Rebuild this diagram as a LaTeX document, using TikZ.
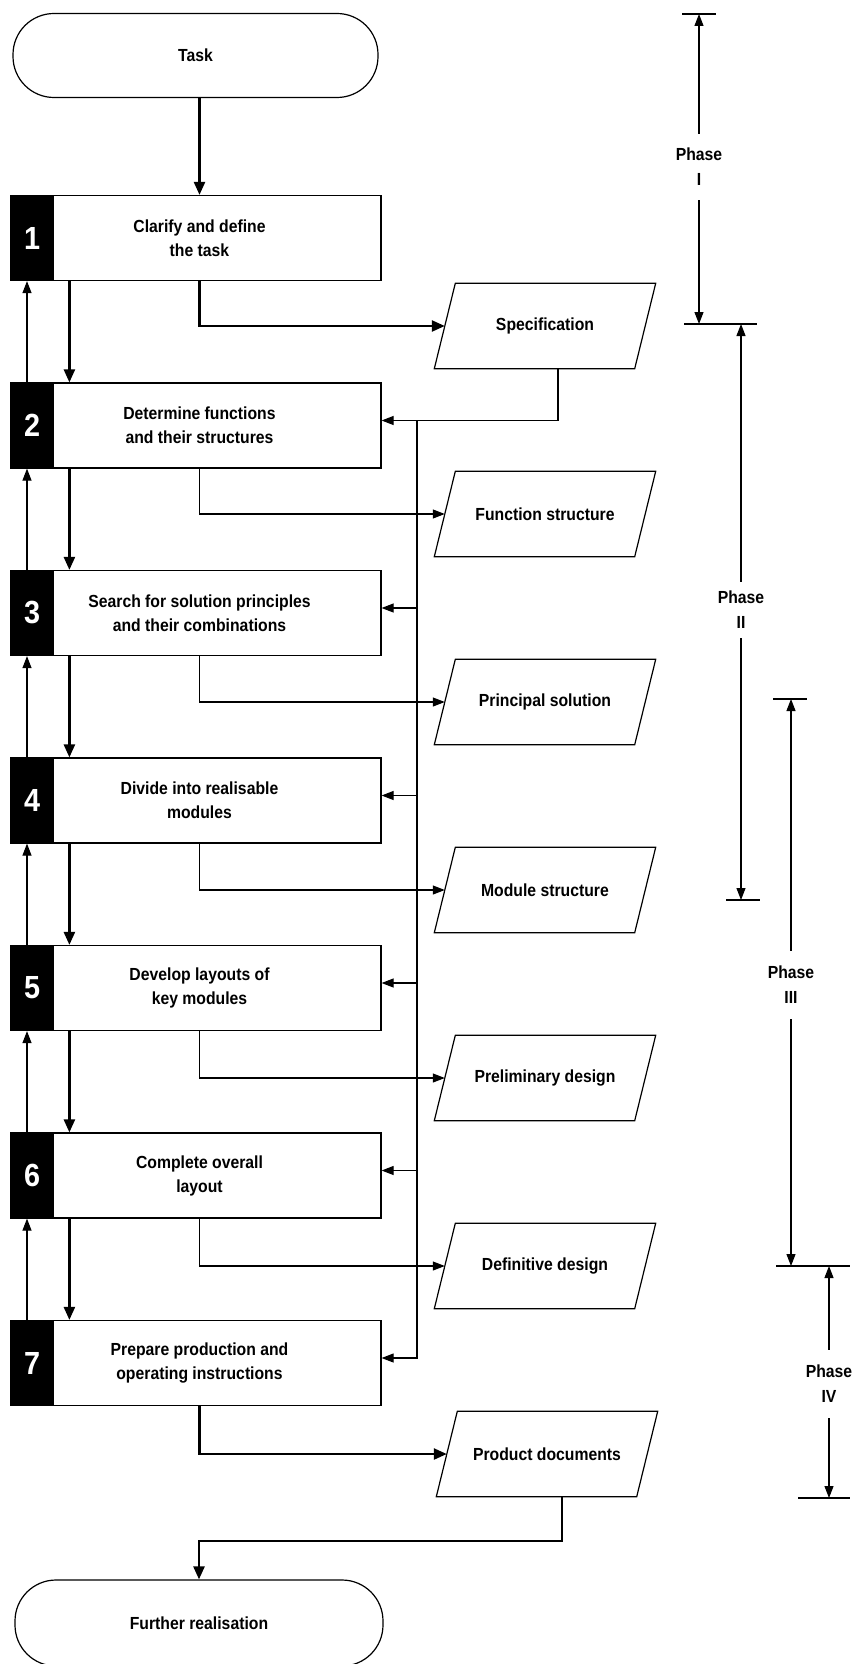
\documentclass[tikz,border=0pt]{standalone}
\usepackage{fontspec}
\setmainfont{Liberation Sans}[FakeStretch=0.9]
\usetikzlibrary{arrows.meta,calc}
\begin{document}
\begin{tikzpicture}[x=1pt,y=-1pt,
  every node/.style={font=\fontsize{17.5}{24}\selectfont\bfseries, align=center},
  line/.style={line width=1.2pt},
  thinarr/.style={line width=1.1pt,-{Triangle[length=12pt,width=9pt]}},
  flow/.style={line width=2.4pt,-{Triangle[length=13pt,width=11pt]}},
  stadium/.style={draw, line width=1.2pt, rounded corners=41pt, minimum width=365pt, minimum height=84pt, inner sep=0pt},
  stepbox/.style={draw, line width=1.2pt, minimum width=363pt, minimum height=85pt, inner sep=0pt},
  numbox/.style={fill=black, draw=black, line width=1.2pt, minimum width=43pt, minimum height=85pt, inner sep=0pt, text=white, font=\fontsize{32}{32}\selectfont\bfseries, anchor=west},
  para/.style={minimum width=200pt, minimum height=85pt, inner sep=0pt},
  phase/.style={inner sep=0pt, font=\fontsize{17.5}{25}\selectfont\bfseries},
]
\useasboundingbox (0,0) rectangle (854,1664);

% terminals
\node[stadium] (task) at (195.5,55.5) {Task};
\node[stadium, minimum width=368pt, minimum height=86pt] (fr) at (199,1623) {Further realisation};

% steps
\node[stepbox] (b1) at (199.5,238) {Clarify and define\\the task};
\node[stepbox] (b2) at (199.5,425.5) {Determine functions\\and their structures};
\node[stepbox] (b3) at (199.5,613) {Search for solution principles\\and their combinations};
\node[stepbox] (b4) at (199.5,800.5) {Divide into realisable\\modules};
\node[stepbox] (b5) at (199.5,988) {Develop layouts of\\key modules};
\node[stepbox] (b6) at (199.5,1175.5) {Complete overall\\layout};
\node[stepbox] (b7) at (199.5,1363) {Prepare production and\\operating instructions};
\foreach \i/\y in {1/238,2/425.5,3/613,4/800.5,5/988,6/1175.5,7/1363}
  \node[numbox] (n\i) at (10,\y) {\i};

% results
\node[para] (p1) at (545,326) {Specification};
\node[para] (p2) at (545,514) {Function structure};
\node[para] (p3) at (545,702) {Principal solution};
\node[para] (p4) at (545,890) {Module structure};
\node[para] (p5) at (545,1078) {Preliminary design};
\node[para] (p6) at (545,1266) {Definitive design};
\node[para] (p7) at (547,1454) {Product documents};
\foreach \i in {1,...,7}
  \draw[line] ([xshift=-10.5pt]p\i.south west) -- ([xshift=10.5pt]p\i.north west)
    -- ([xshift=10.5pt]p\i.north east) -- ([xshift=-10.5pt]p\i.south east) -- cycle;

% main flow
\draw[flow] (b1.north |- task.south) -- (b1.north);
\foreach \i in {1,...,6}{
  \pgfmathtruncatemacro{\j}{\i+1}
  \draw[flow] ([xshift=52pt]b\i.south west) -- ([xshift=52pt]b\j.north west);
  \draw[thinarr] ([xshift=17pt]n\j.north west) -- ([xshift=17pt]n\i.south west);
}
\draw[flow] (b1.south) |- (p1.west);
\foreach \i in {2,...,6}
  \draw[thinarr] (b\i.south) |- (p\i.west);
\draw[flow] (b7.south) |- (p7.west);

% feedback bus
\foreach \i in {2,...,7}
  \coordinate (a\i) at ([yshift=5pt]b\i.east);
\coordinate (bus) at (417,0);
\draw[thinarr] ([xshift=13pt]p1.south) |- (a2);
\draw[thinarr] (bus |- a2) |- (a7);
\foreach \i in {3,...,6}
  \draw[thinarr] (bus |- a\i) -- (a\i);

% to further realisation
\coordinate (k) at (0,1541);
\draw[flow] ([xshift=15pt]p7.south) |- (k -| fr.north) -- (fr.north);

% phases
\node[phase, minimum height=66pt] (ph1) at (699,167) {Phase\\I};
\node[phase, minimum height=56pt] (ph2) at (741,610) {Phase\\II};
\node[phase, minimum height=68pt] (ph3) at (791,985) {Phase\\III};
\node[phase, minimum height=68pt] (ph4) at (829,1384) {Phase\\IV};
\coordinate (ph1t) at (699,14);   \coordinate (ph1b) at (699,324);
\coordinate (ph2t) at (741,324);  \coordinate (ph2b) at (741,900);
\coordinate (ph3t) at (791,699);  \coordinate (ph3b) at (791,1266);
\coordinate (ph4t) at (829,1266); \coordinate (ph4b) at (829,1498);
\foreach \i in {1,...,4}{
  \draw[thinarr] (ph\i.north) -- (ph\i t);
  \draw[thinarr] (ph\i.south) -- (ph\i b);
}
\draw[line] (682,14) -- (716,14);
\draw[line] (684,324) -- (757,324);
\draw[line] (726,900) -- (760,900);
\draw[line] (773,699) -- (807,699);
\draw[line] (776,1266) -- (850,1266);
\draw[line] (798,1498) -- (850,1498);
\end{tikzpicture}
\end{document}
